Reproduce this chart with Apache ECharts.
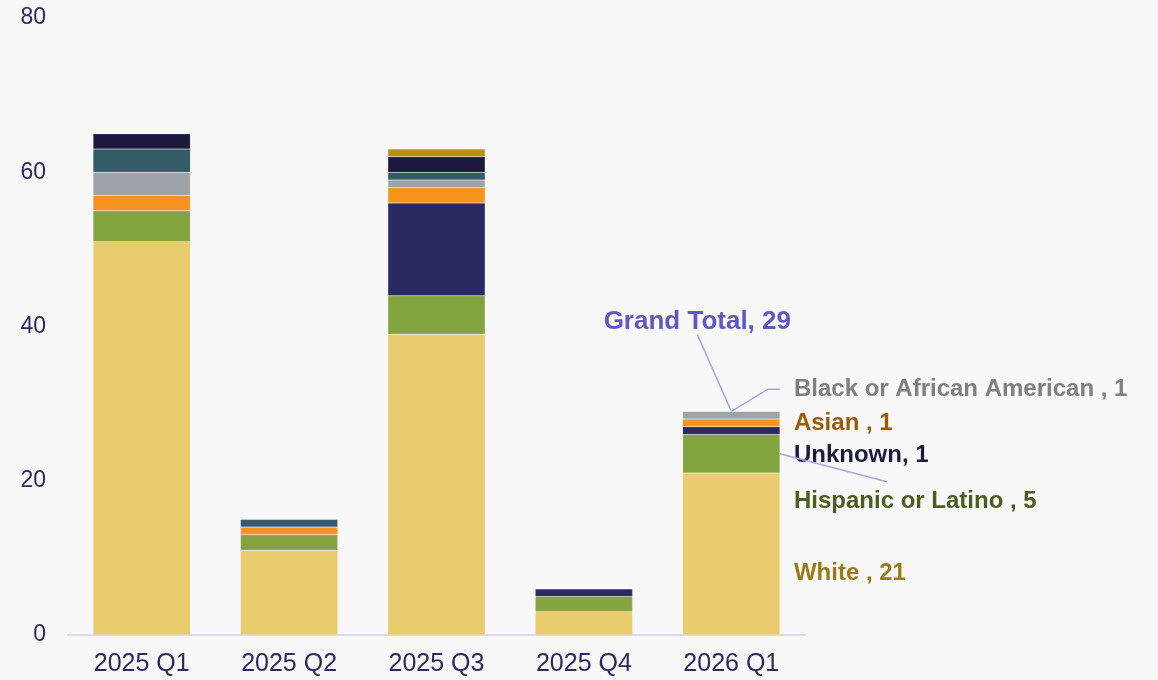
<!DOCTYPE html>
<html>
<head>
<meta charset="utf-8">
<script src="https://cdn.jsdelivr.net/npm/echarts@6/dist/echarts.min.js"></script>
<style>
  html, body { margin: 0; padding: 0; background: #F8F8F8; }
  #chart { width: 1158px; height: 680px; }
</style>
</head>
<body>
<div id="chart"></div>
<script>
// Quarters on the category axis
const quarters = ['2025 Q1', '2025 Q2', '2025 Q3', '2025 Q4', '2026 Q1'];
const yTicks = [0, 20, 40, 60, 80];

// Headcount by race / ethnicity, stacked bottom to top
const white      = [51, 11, 39, 3, 21];
const hispanic   = [4, 2, 5, 2, 5];
const unknown    = [0, 0, 12, 1, 1];
const asian      = [2, 1, 2, 0, 1];
const black      = [3, 0, 1, 0, 1];
const twoOrMore  = [3, 1, 1, 0, 0];
const amIndian   = [2, 0, 2, 0, 0];
const hawaiian   = [0, 0, 1, 0, 0];

const lastIdx = quarters.length - 1;
const BAR_FRACTION = 0.66;
const LABEL_GAP = 14;
const guideLine = { stroke: '#A9A5E4', lineWidth: 1.5 };
const FONT = 'Liberation Sans, Arial, sans-serif';

// name, values, fill, label colour, separator, label vertical shift
const groups = [
  { name: 'White', data: white, color: '#E9CC6E', text: '#9A7A1A', sep: ' , ', dy: 19 },
  { name: 'Hispanic or Latino', data: hispanic, color: '#84A43F', text: '#4B5E1F', sep: ' , ', dy: 48 },
  { name: 'Unknown', data: unknown, color: '#2A2961', text: '#1B1A3E', sep: ', ', dy: 25 },
  { name: 'Asian', data: asian, color: '#F7941E', text: '#9C5A0A', sep: ' , ', dy: 0 },
  { name: 'Black or African American', data: black, color: '#9EA3AA', text: '#7F7F7F', sep: ' , ', dy: -26 },
  { name: 'Two or More Races', data: twoOrMore, color: '#335C66', text: null },
  { name: 'American Indian or Alaska Native', data: amIndian, color: '#1B1A3E', text: null },
  { name: 'Native Hawaiian or Other Pacific Islander', data: hawaiian, color: '#B48F1A', text: null }
];

const totals = quarters.map((_, i) => groups.reduce((s, g) => s + g.data[i], 0));

const barSeries = groups.map(g => ({
  name: g.name,
  type: 'bar',
  stack: 'total',
  barWidth: (BAR_FRACTION * 100) + '%',
  itemStyle: { color: g.color, borderColor: 'rgba(255,255,255,0.25)', borderWidth: 0.5 },
  data: g.data.map((v, i) => {
    if (g.text && i === lastIdx && v > 0) {
      return {
        value: v,
        label: {
          show: true,
          position: 'right',
          distance: LABEL_GAP,
          formatter: g.name + g.sep + v,
          color: g.text,
          fontFamily: FONT,
          fontWeight: 'bold',
          fontSize: 24
        }
      };
    }
    return v;
  }),
  labelLayout: { dy: g.dy || 0 },
  emphasis: { disabled: true }
}));

// Grand total marker sitting on top of the last stack
const totalSeries = {
  name: 'Grand Total',
  type: 'scatter',
  symbolSize: 2,
  itemStyle: { color: 'rgba(0,0,0,0)', opacity: 1 },
  data: totals.map((t, i) => i === lastIdx ? {
    value: t,
    label: {
      show: true,
      position: 'top',
      distance: 4,
      formatter: 'Grand Total, ' + t,
      color: '#5F59C6',
      fontFamily: FONT,
      fontWeight: 'bold',
      fontSize: 26
    },
    labelLine: { show: true, lineStyle: { color: guideLine.stroke, width: guideLine.lineWidth } }
  } : null),
  labelLayout: { dx: -34, dy: -72 },
  emphasis: { disabled: true },
  z: 5
};

const chart = echarts.init(document.getElementById('chart'), null, { renderer: 'canvas' });
chart.setOption({
  backgroundColor: '#F8F8F8',
  animation: false,
  grid: { left: 68, right: 353, top: 18, bottom: 45, containLabel: false },
  xAxis: {
    type: 'category',
    data: quarters,
    axisLine: { lineStyle: { color: '#DCD9F2', width: 2 } },
    axisTick: { show: false },
    axisLabel: { color: '#2A2961', fontFamily: FONT, fontSize: 25, margin: 17 }
  },
  yAxis: {
    type: 'value',
    min: yTicks[0],
    max: yTicks[yTicks.length - 1],
    interval: yTicks[1] - yTicks[0],
    splitLine: { show: false },
    axisLine: { show: false },
    axisTick: { show: false },
    axisLabel: { color: '#2A2961', fontFamily: FONT, fontSize: 23, margin: 22, padding: [5, 0, 0, 0] }
  },
  series: barSeries.concat([totalSeries])
});

// Leader lines for the last quarter's labels, placed from the axis scales
const toPx = (cat, v) => chart.convertToPixel({ xAxisIndex: 0, yAxisIndex: 0 }, [cat, v]);
const lastCat = quarters[lastIdx];
const band = toPx(quarters[1], 0)[0] - toPx(quarters[0], 0)[0];
const stackTop = toPx(lastCat, totals[lastIdx]);
const barRight = stackTop[0] + band * BAR_FRACTION / 2;

const baseOf = (k) => groups.slice(0, k).reduce((s, g) => s + g.data[lastIdx], 0);
const blackIdx = 4, hispIdx = 1;
const blackLabelY = toPx(lastCat, baseOf(blackIdx) + groups[blackIdx].data[lastIdx] / 2)[1] + groups[blackIdx].dy;
const hispMidY = toPx(lastCat, baseOf(hispIdx) + groups[hispIdx].data[lastIdx] / 2)[1];
const hispLabelY = hispMidY + groups[hispIdx].dy;

chart.setOption({
  graphic: [
    {
      type: 'polyline',
      silent: true,
      z: 10,
      shape: { points: [stackTop, [barRight - 12, blackLabelY], [barRight, blackLabelY]] },
      style: Object.assign({ fill: null }, guideLine)
    },
    {
      type: 'polyline',
      silent: true,
      z: 10,
      shape: { points: [[barRight, hispMidY], [barRight + 107, hispLabelY - 20]] },
      style: Object.assign({ fill: null }, guideLine)
    }
  ]
});
</script>
</body>
</html>
